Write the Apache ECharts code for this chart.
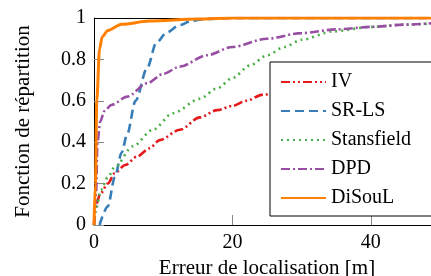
<!DOCTYPE html>
<html>
<head>
<meta charset="utf-8">
<script src="https://cdn.jsdelivr.net/npm/echarts@6/dist/echarts.min.js"></script>
<style>
html,body{margin:0;padding:0;background:#fff;}
#chart{width:431px;height:276px;}
</style>
</head>
<body>
<div id="chart"></div>
<script>
// courbes : [erreur (m), F]
var names=['IV','SR-LS','Stansfield','DPD','DiSouL'];
var iv=[[0,0],[0.3,0.1],[0.9,0.15],[2,0.2],[3,0.25],[4.5,0.29],[6.2,0.33],[8,0.37],[9.5,0.41],[12.4,0.46],[15.3,0.52],[17.8,0.555],[20,0.575],[22,0.6],[24.4,0.63],[30,0.67],[40,0.72],[50,0.76]];
var srls=[[0.8,0],[2,0.09],[3,0.23],[4,0.35],[4.8,0.44],[6,0.6],[7.7,0.76],[9,0.88],[10.5,0.93],[12.4,0.966],[14,0.985],[16,0.995],[20,1],[50,1]];
var stans=[[0,0],[0.3,0.08],[1,0.17],[2,0.23],[3,0.28],[5.6,0.38],[8.5,0.46],[11.4,0.54],[15.3,0.61],[17.8,0.66],[20,0.71],[22.5,0.77],[25,0.82],[27.5,0.86],[30,0.895],[34.5,0.935],[40,0.957],[45,0.968],[50,0.975]];
var dpd=[[0,0],[0.3,0.15],[0.5,0.4],[0.9,0.5],[1.5,0.55],[2.5,0.58],[4.8,0.62],[7.7,0.685],[10,0.73],[12.4,0.765],[16.3,0.82],[20,0.86],[25,0.9],[30,0.927],[35,0.945],[40,0.957],[45,0.968],[50,0.978]];
var disoul=[[0,0],[0.2,0.2],[0.4,0.6],[0.8,0.85],[1.2,0.91],[2,0.94],[4,0.97],[8,0.985],[15,0.995],[20,1],[50,1]];
var xTicks=[0,20,40];
var yTicks=[0,0.2,0.4,0.6,0.8,1];

var font='"Liberation Serif", serif';
var colors=['#e41a1c','#377eb8','#4daf4a','#984ea3','#ff7f00'];
var dashes=[[9,3,2,3,2,3],[9,5],[2,4],[9,3,2,3],'solid'];
var datas=[iv,srls,stans,dpd,disoul];

var series=datas.map(function(d,i){
	return {
		name:names[i],
		type:'line',
		data:d,
		symbol:'none',
		smooth:0.3,
		smoothMonotone:'x',
		z:i==4?5:2,
		lineStyle:{color:colors[i],width:i==4?3:2.6,type:dashes[i]},
		itemStyle:{color:colors[i]}
	};
});

function tick(v){return v.toString();}

var chart=echarts.init(document.getElementById('chart'));
chart.setOption({
	animation:false,
	textStyle:{fontFamily:font},
	grid:{left:94,right:-9,top:18,bottom:51,outerBoundsMode:'none',containLabel:false},
	legend:{
		orient:'vertical',
		left:270,top:62,
		padding:[9,22,7,10],
		itemWidth:45,itemHeight:14,itemGap:7,
		backgroundColor:'#fff',
		borderColor:'#000',borderWidth:1,borderRadius:0,
		itemStyle:{opacity:0},
		textStyle:{fontFamily:font,fontSize:20,color:'#000',lineHeight:22},
		data:names
	},
	xAxis:{
		type:'value',min:0,max:50,interval:20,
		name:'Erreur de localisation [m]',nameLocation:'middle',nameGap:28,
		nameTextStyle:{fontFamily:font,fontSize:21,color:'#000'},
		axisLine:{lineStyle:{color:'#000',width:1}},
		axisTick:{inside:true,length:10,lineStyle:{color:'#888'}},
		axisLabel:{color:'#000',fontSize:20,margin:8,formatter:tick},
		splitLine:{show:false}
	},
	yAxis:{
		type:'value',min:0,max:1,interval:0.2,
		name:'Fonction de répartition',nameLocation:'middle',nameGap:60,
		nameTextStyle:{fontFamily:font,fontSize:21,color:'#000'},
		axisLine:{lineStyle:{color:'#000',width:1}},
		axisTick:{inside:true,length:10,lineStyle:{color:'#888'}},
		axisLabel:{color:'#000',fontSize:20,margin:8,formatter:tick},
		splitLine:{show:false}
	},
	series:series.concat([{
		type:'line',data:[],silent:true,
		markLine:{silent:true,symbol:'none',label:{show:false},
			lineStyle:{color:'#000',width:1,type:'solid'},
			data:[[{coord:[0,1]},{coord:[50,1]}]]}
	}])
});
</script>
</body>
</html>
